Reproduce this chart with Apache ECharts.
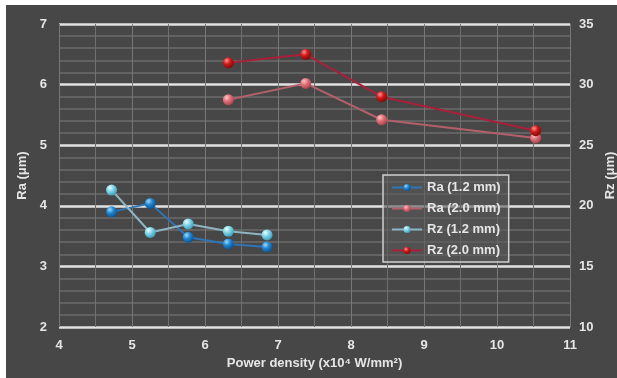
<!DOCTYPE html>
<html>
<head>
<meta charset="utf-8">
<script src="https://cdn.jsdelivr.net/npm/echarts@6/dist/echarts.min.js"></script>
<style>
  html, body { margin: 0; padding: 0; background: #fff; }
  #chart { position: absolute; left: 6px; top: 5px; width: 611px; height: 373px; background: #474747; }
</style>
</head>
<body>
<div id="chart"></div>
<script>
// valeurs
var xRa12 = [4.72, 5.25, 5.77, 6.32, 6.85];
var ra12 = [3.90, 4.04, 3.48, 3.37, 3.32];
var rz12 = [21.3, 17.8, 18.5, 17.9, 17.6];

var x20 = [6.32, 7.38, 8.42, 10.53];
var ra20 = [5.75, 6.02, 5.42, 5.12];
var rz20 = [31.8, 32.5, 29.0, 26.2];

var names = ['Ra (1.2 mm)', 'Ra (2.0 mm)', 'Rz (1.2 mm)', 'Rz (2.0 mm)'];

var fontFamily = 'Liberation Sans, Arial, sans-serif';
var textColor = '#e6e6e6';

function pairs(xs, ys) {
  var out = [];
  for (var i = 0; i < xs.length; i++) {
    out.push([xs[i], ys[i]]);
  }
  return out;
}

function sphere(light, mid, dark) {
  return {
    type: 'radial', x: 0.35, y: 0.3, r: 0.75,
    colorStops: [
      {offset: 0, color: light},
      {offset: 0.45, color: mid},
      {offset: 1, color: dark}
    ]
  };
}

function makeSeries(name, data, yIdx, marker, lineColor, z) {
  return {
    name: name,
    type: 'line',
    yAxisIndex: yIdx,
    data: data,
    symbol: 'circle',
    symbolSize: 11,
    z: z,
    itemStyle: {color: marker},
    lineStyle: {color: lineColor, width: 2},
    emphasis: {disabled: true}
  };
}

var chart = echarts.init(document.getElementById('chart'), null, {renderer: 'canvas'});
var option = {
  animation: false,
  textStyle: {fontFamily: fontFamily},
  grid: {left: 53, right: 47, top: 19, bottom: 51, outerBoundsMode: 'none', containLabel: false},
  legend: {
    orient: 'vertical',
    left: 377, top: 170,
    padding: [6, 8, 5, 8],
    itemGap: 8,
    itemWidth: 30, itemHeight: 9,
    backgroundColor: 'rgba(90,90,90,0.6)',
    borderColor: '#cfcfcf',
    borderWidth: 1.5,
    borderRadius: 0,
    textStyle: {color: textColor, fontSize: 13, fontWeight: 'bold', fontFamily: fontFamily},
    data: names
  },
  xAxis: {
    type: 'value',
    min: 4, max: 11, interval: 1,
    name: 'Power density (x10\u2074 W/mm\u00b2)',
    nameLocation: 'middle',
    nameGap: 30,
    nameTextStyle: {color: textColor, fontSize: 13, fontWeight: 'bold'},
    axisLine: {show: false},
    axisTick: {show: false},
    axisLabel: {color: textColor, fontSize: 13, fontWeight: 'bold', margin: 12},
    splitLine: {show: true, lineStyle: {color: '#777', width: 1}},
    minorTick: {show: false, splitNumber: 2},
    minorSplitLine: {show: true, lineStyle: {color: '#6f6f6f', width: 1}}
  },
  yAxis: [
    {
      type: 'value',
      min: 2, max: 7, interval: 1,
      name: 'Ra (\u03bcm)',
      nameLocation: 'middle',
      nameRotate: 90,
      nameGap: 27,
      nameTextStyle: {color: textColor, fontSize: 13, fontWeight: 'bold'},
      axisLine: {show: false},
      axisTick: {show: false},
      axisLabel: {color: textColor, fontSize: 13, fontWeight: 'bold', margin: 12},
      splitLine: {show: true, lineStyle: {color: '#e2e2e2', width: 2.5}},
      minorTick: {show: false, splitNumber: 5},
      minorSplitLine: {show: true, lineStyle: {color: '#6c6c6c', width: 1.5}}
    },
    {
      type: 'value',
      min: 10, max: 35, interval: 5,
      name: 'Rz (\u03bcm)',
      nameLocation: 'middle',
      nameRotate: 90,
      nameGap: 26,
      nameTextStyle: {color: textColor, fontSize: 13, fontWeight: 'bold'},
      axisLine: {show: true, lineStyle: {color: '#777', width: 1}},
      axisTick: {show: false},
      axisLabel: {color: textColor, fontSize: 13, fontWeight: 'bold', margin: 9},
      splitLine: {show: false}
    }
  ],
  series: [
    makeSeries(names[0], pairs(xRa12, ra12), 0, sphere('#9fd8ff', '#1f86d2', '#0b4f8a'), '#2f74b5', 3),
    makeSeries(names[1], pairs(x20, ra20), 0, sphere('#ffc4c4', '#e0707a', '#a8404a'), '#b3606c', 3),
    makeSeries(names[2], pairs(xRa12, rz12), 1, sphere('#eaffff', '#7fd4e8', '#3a9ab5'), '#8fb4c4', 4),
    makeSeries(names[3], pairs(x20, rz20), 1, sphere('#ff9090', '#d01818', '#800808'), '#a8203a', 4)
  ]
};

option && chart.setOption(option);
</script>
</body>
</html>
